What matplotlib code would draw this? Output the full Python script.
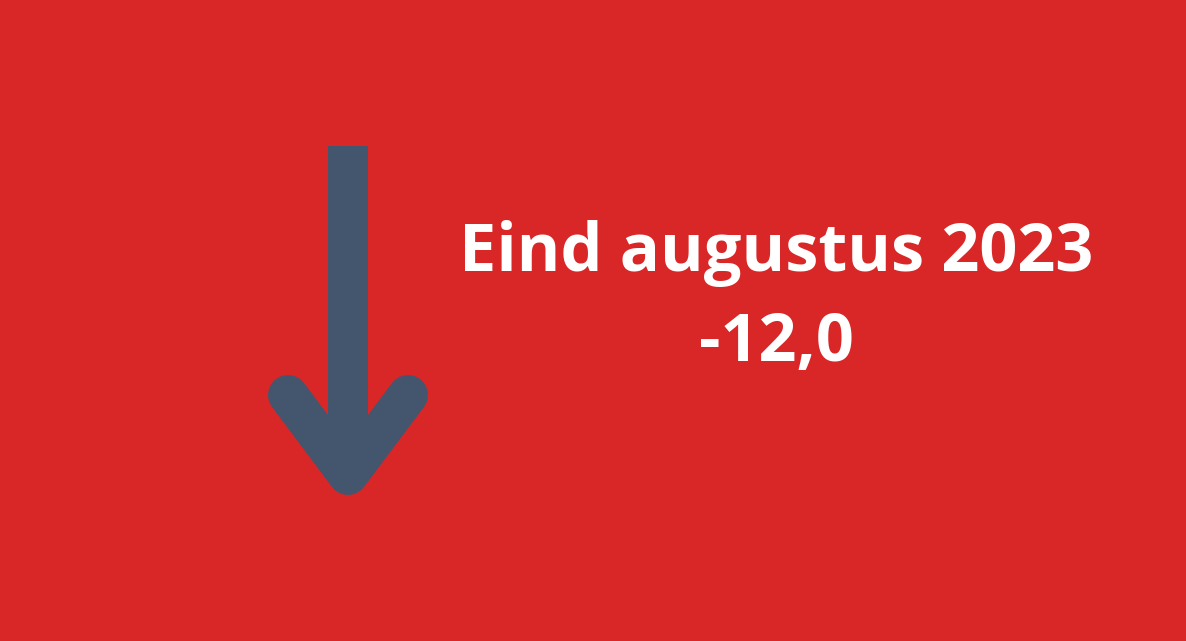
import matplotlib
matplotlib.use("Agg")
import matplotlib.pyplot as plt

# Data
period_label = "Eind augustus 2023"
values = [-12.0]

BG = "#D92727"
ARROW = "#44566E"

W, H, DPI = 1186, 641, 100
fig = plt.figure(figsize=(W / DPI, H / DPI), dpi=DPI, facecolor=BG)
ax = fig.add_axes([0, 0, 1, 1])
ax.set_facecolor(BG)
ax.set_xlim(0, W)
ax.set_ylim(H, 0)
ax.axis("off")

lw_pt = 40 * 72 / DPI
# shaft
ax.plot([348, 348], [146, 470], color=ARROW, lw=lw_pt, solid_capstyle="butt")
# head
ax.plot([288, 348, 408], [395, 475, 395], color=ARROW, lw=lw_pt,
        solid_capstyle="round", solid_joinstyle="round")

fs = 48
ax.text(776, 271, period_label, ha="center", va="baseline", color="white",
        fontsize=fs, fontweight="bold", family="Open Sans")
val_txt = f"{values[0]:.1f}".replace(".", ",")
ax.text(776, 361, val_txt, ha="center", va="baseline", color="white",
        fontsize=fs, fontweight="bold", family="Open Sans")

fig.savefig("out.png", dpi=DPI, facecolor=BG)
